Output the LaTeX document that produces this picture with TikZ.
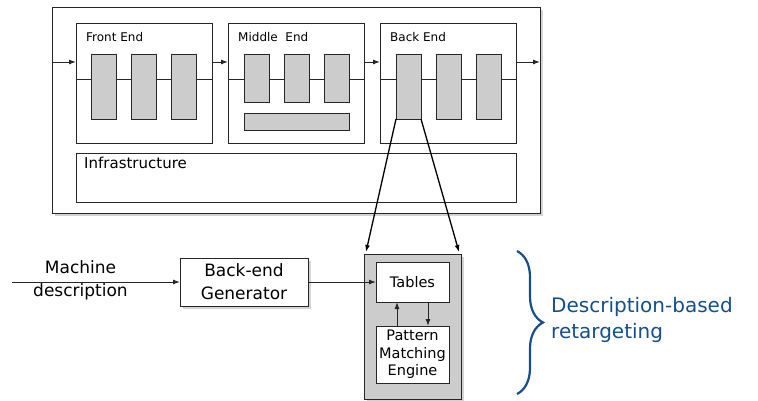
\documentclass[tikz,border=0pt]{standalone}
\usepackage{fontspec}
\setmainfont{DejaVu Sans}
\usetikzlibrary{shadows,decorations.pathreplacing,arrows.meta}
\definecolor{bracecol}{RGB}{22,78,140}
\definecolor{unitgray}{RGB}{204,204,204}
\begin{document}
\begin{tikzpicture}[x=1pt,y=-1pt,>={Latex[length=7pt,width=5pt]},
  box/.style={draw=black!85, line width=1pt, fill=white, inner sep=0pt, outer sep=0pt},
  unit/.style={draw=black!85, line width=1pt, fill=unitgray, inner sep=0pt, outer sep=0pt, minimum width=25},
  shadowed/.style={drop shadow={shadow xshift=2.5pt, shadow yshift=-2.5pt, opacity=0.35}},
  tag/.style={anchor=west, inner sep=0pt, font=\fontsize{12}{14}\selectfont},
  flow/.style={draw=black!85, line width=1pt}]
\useasboundingbox (0,0) rectangle (758,400);
% the compiler and its three stages
\node[box, shadowed, minimum width=488, minimum height=206] (compiler) at (296,110) {};
\node[box, minimum width=136, minimum height=120] (front) at (144,83) {};
\node[box, minimum width=136, minimum height=120] (middle) at (296,83) {};
\node[box, minimum width=136, minimum height=120] (back) at (448,83) {};
\node[box, minimum width=440, minimum height=49] (infra) at (296,177.5) {};
\node[tag] (frontlbl) at (86,37) {Front End};
\node[tag] (middlelbl) at (238,37) {Middle\ \ End};
\node[tag] (backlbl) at (390,37) {Back End};
\node[anchor=north west, inner sep=0pt, font=\fontsize{15}{17}\selectfont] (infralbl) at (84,157) {Infrastructure};
\draw[flow] ([yshift=4pt]front.west) -- ([yshift=4pt]front.east);
\draw[flow] ([yshift=4pt]middle.west) -- ([yshift=4pt]middle.east);
\draw[flow] ([yshift=4pt]back.west) -- ([yshift=4pt]back.east);
\foreach \i/\x in {1/104,2/144,3/184}
  \node[unit, minimum height=65] (fe\i) at (\x,86.5) {};
\foreach \i/\x in {1/256.5,2/296.5,3/336.5}
  \node[unit, minimum height=48] (me\i) at (\x,78) {};
\node[unit, minimum width=105, minimum height=17] (mebar) at (296.5,121.5) {};
\foreach \i/\x in {1/408.5,2/448.5,3/488.5}
  \node[unit, minimum height=65] (be\i) at (\x,86.5) {};
\coordinate (feed) at (52,62);
\coordinate (out) at (540,62);
\draw[->, flow] (feed) -- ([yshift=21pt]front.west);
\draw[->, flow] ([yshift=21pt]front.east) -- ([yshift=21pt]middle.west);
\draw[->, flow] ([yshift=21pt]middle.east) -- ([yshift=21pt]back.west);
\draw[->, flow] ([yshift=21pt]back.east) -- (out);
% generated back end
\node[unit, shadowed, minimum width=97, minimum height=145] (retarget) at (412.5,326.5) {};
\node[box, minimum width=73, minimum height=40, font=\fontsize{14.5}{17}\selectfont] (tables) at (412.5,282) {Tables};
\node[box, minimum width=73, minimum height=57, align=center, font=\fontsize{14.5}{17.5}\selectfont] (engine) at (412.5,354.5) {Pattern\\Matching\\Engine};
\draw[->, flow] ([xshift=-15.5pt]engine.north) -- ([xshift=-15.5pt]tables.south);
\draw[->, flow] ([xshift=15.5pt]tables.south) -- ([xshift=15.5pt]engine.north);
\draw[->, line width=1.3pt] (be1.south west) -- ([xshift=2pt,yshift=2pt]retarget.north west);
\draw[->, line width=1.3pt] (be1.south east) -- ([xshift=-2pt,yshift=2pt]retarget.north east);
\node[box, shadowed, minimum width=128, minimum height=48, align=center, font=\fontsize{17}{23}\selectfont] (gen) at (244,282) {Back-end\\Generator};
\node[align=center, inner sep=0pt, font=\fontsize{17}{23}\selectfont] (mdesc) at (80.5,280) {Machine\\description};
\coordinate (mdin) at (12,282);
\draw[->, flow] (mdin) -- (gen);
\draw[->, flow] (gen) -- (tables);
% brace and its note
\coordinate (bracetop) at (517,251);
\coordinate (bracebot) at (517,394);
\draw[bracecol, line width=2.2pt, decorate, decoration={brace, amplitude=26pt}] (bracetop) -- (bracebot);
\node[anchor=west, align=left, inner sep=0pt, text=bracecol, font=\fontsize{20}{26}\selectfont] (note) at (551,320) {Description-based\\retargeting};
\end{tikzpicture}
\end{document}
